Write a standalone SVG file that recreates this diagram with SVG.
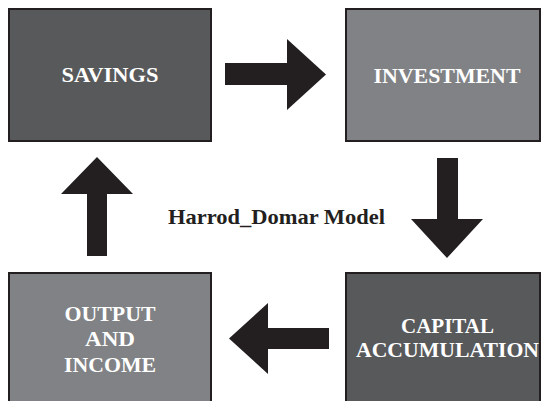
<svg xmlns="http://www.w3.org/2000/svg" width="541" height="401" viewBox="0 0 541 401">
  <style>
    .box { stroke: #231f20; stroke-width: 2; }
    .dark { fill: #58595b; }
    .light { fill: #808285; }
    .label { font-family: "Liberation Serif", "Times New Roman", serif; font-weight: bold; font-size: 21px; fill: #ffffff; text-anchor: middle; }
    .title { font-family: "Liberation Serif", "Times New Roman", serif; font-weight: bold; font-size: 21px; fill: #231f20; text-anchor: middle; }
    .arrow { fill: #231f20; }
  </style>
  <rect width="541" height="401" fill="#ffffff"/>

  <g id="savings">
    <rect class="box dark" x="9" y="9" width="202" height="132"/>
    <text class="label" x="110" y="82" textLength="97" lengthAdjust="spacingAndGlyphs">SAVINGS</text>
  </g>

  <g id="investment">
    <rect class="box light" x="346" y="9" width="194" height="132"/>
    <text class="label" x="447" y="83" textLength="147" lengthAdjust="spacingAndGlyphs">INVESTMENT</text>
  </g>

  <g id="output-income">
    <rect class="box light" x="9" y="273" width="202" height="140"/>
    <text class="label" x="110" y="321" textLength="91" lengthAdjust="spacingAndGlyphs">OUTPUT</text>
    <text class="label" x="110" y="346" textLength="50" lengthAdjust="spacingAndGlyphs">AND</text>
    <text class="label" x="110" y="372" textLength="92" lengthAdjust="spacingAndGlyphs">INCOME</text>
  </g>

  <g id="capital-accumulation">
    <rect class="box dark" x="346" y="273" width="194" height="140"/>
    <text class="label" x="447.5" y="333" textLength="93" lengthAdjust="spacingAndGlyphs">CAPITAL</text>
    <text class="label" x="447.5" y="357" textLength="183" lengthAdjust="spacingAndGlyphs">ACCUMULATION</text>
  </g>

  <g id="model-title">
    <text class="title" x="276.5" y="224" textLength="217" lengthAdjust="spacingAndGlyphs">Harrod_Domar Model</text>
  </g>

  <g id="connectors">
    <!-- savings to investment -->
    <polygon class="arrow" points="225,63 287,63 287,39 326,74.5 287,110 287,85 225,85"/>
    <!-- investment to capital accumulation -->
    <polygon class="arrow" points="437,158 458,158 458,219 483,219 447,258 411,219 437,219"/>
    <!-- capital accumulation to output and income -->
    <polygon class="arrow" points="329,328 329,349 268,349 268,374 229,338.5 268,303 268,328"/>
    <!-- output and income to savings -->
    <polygon class="arrow" points="87,256 107,256 107,194 133,194 97,157 61,194 87,194"/>
  </g>
</svg>
